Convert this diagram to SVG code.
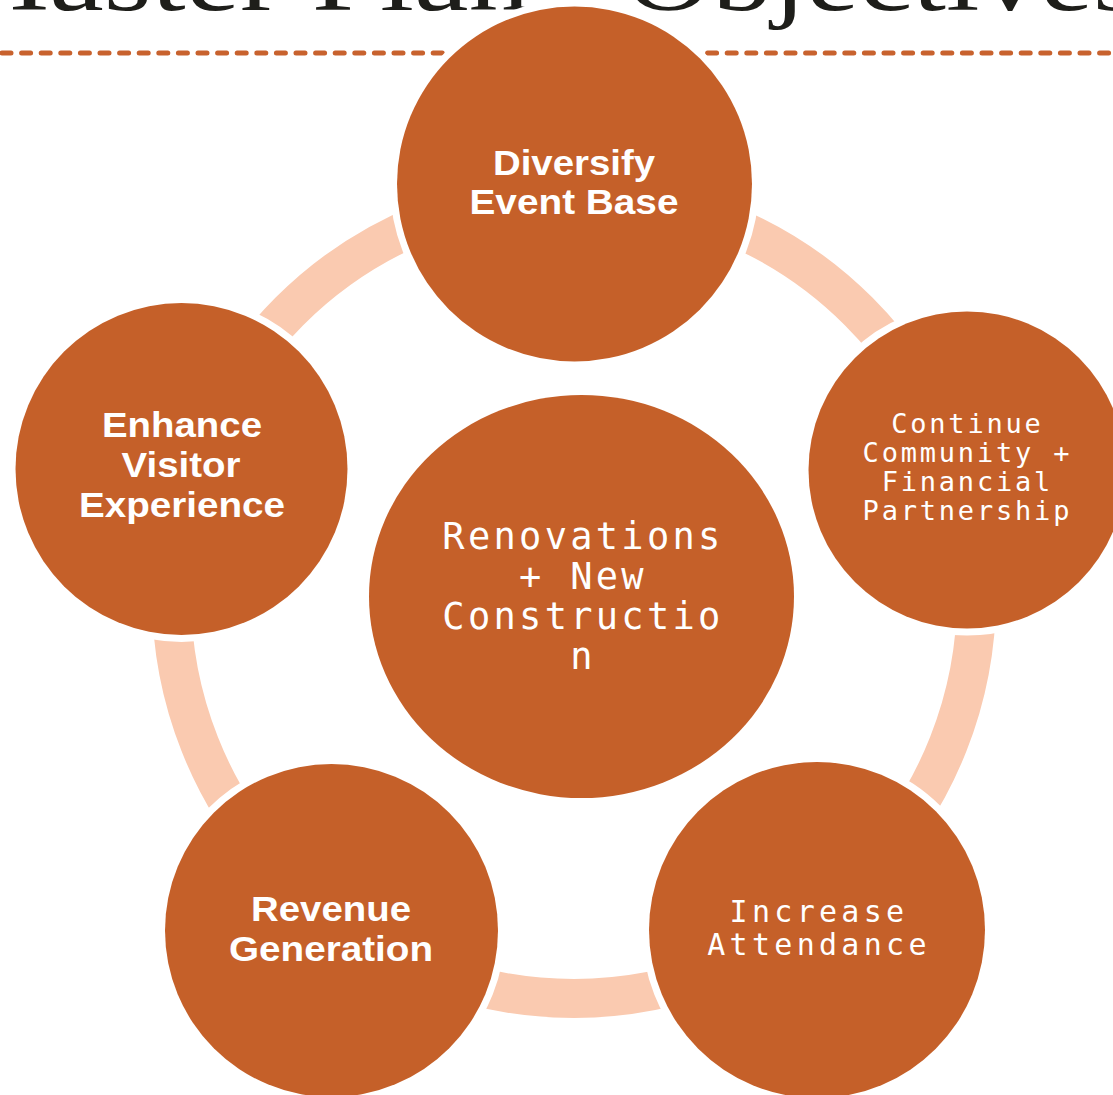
<svg xmlns="http://www.w3.org/2000/svg" width="1113" height="1095" viewBox="0 0 1113 1095">
<style>
.node{fill:#C56029;stroke:#FFFFFF;stroke-width:14;paint-order:stroke}
.sans{font-family:"Liberation Sans",Arial,sans-serif;font-weight:bold;fill:#FFFFFF;text-anchor:middle}
.mono{font-family:"DejaVu Sans Mono","Liberation Mono",monospace;fill:#FFFFFF;text-anchor:middle}
.title{font-family:"Liberation Serif","Times New Roman",serif;font-size:95px;fill:#1E1E1A}
</style>
<rect width="1113" height="1095" fill="#FFFFFF"/>
<g id="title">
<text class="title" x="-60" y="10" textLength="590" lengthAdjust="spacingAndGlyphs">Master Plan</text>
<text class="title" x="625" y="10" textLength="515" lengthAdjust="spacingAndGlyphs">Objectives</text>
</g>
<line id="rule" x1="2" y1="53" x2="1113" y2="53" stroke="#C8622E" stroke-width="5" stroke-linecap="round" stroke-dasharray="9 10.6"/>
<g id="connectors">
<circle cx="574" cy="596" r="402.5" fill="none" stroke="#FACAB0" stroke-width="39"/>
</g>
<g id="node-top">
<circle class="node" cx="574.5" cy="184" r="177.5"/>
<text class="sans" font-size="35" x="574" y="175" textLength="162" lengthAdjust="spacingAndGlyphs">Diversify</text>
<text class="sans" font-size="35" x="574" y="214" textLength="209" lengthAdjust="spacingAndGlyphs">Event Base</text>
</g>
<g id="node-right">
<circle class="node" cx="967" cy="470" r="158.5"/>
<text class="mono" font-size="27" letter-spacing="2.8" x="967.4" y="433">Continue</text>
<text class="mono" font-size="27" letter-spacing="2.8" x="967.4" y="462">Community +</text>
<text class="mono" font-size="27" letter-spacing="2.8" x="967.4" y="491">Financial</text>
<text class="mono" font-size="27" letter-spacing="2.8" x="967.4" y="520">Partnership</text>
</g>
<g id="node-bottom-right">
<circle class="node" cx="817" cy="930" r="168"/>
<text class="mono" font-size="30" letter-spacing="4.3" x="819" y="922">Increase</text>
<text class="mono" font-size="30" letter-spacing="4.3" x="819" y="955">Attendance</text>
</g>
<g id="node-bottom-left">
<circle class="node" cx="331.5" cy="930.5" r="166.5"/>
<text class="sans" font-size="35" x="331" y="921" textLength="160" lengthAdjust="spacingAndGlyphs">Revenue</text>
<text class="sans" font-size="35" x="331" y="961" textLength="204" lengthAdjust="spacingAndGlyphs">Generation</text>
</g>
<g id="node-left">
<circle class="node" cx="181.5" cy="469" r="166"/>
<text class="sans" font-size="35" x="182" y="437" textLength="160" lengthAdjust="spacingAndGlyphs">Enhance</text>
<text class="sans" font-size="35" x="181" y="477" textLength="119" lengthAdjust="spacingAndGlyphs">Visitor</text>
<text class="sans" font-size="35" x="182" y="517" textLength="206" lengthAdjust="spacingAndGlyphs">Experience</text>
</g>
<g id="node-center">
<ellipse class="node" cx="581.5" cy="596.5" rx="212.5" ry="201.5"/>
<text class="mono" font-size="37" letter-spacing="3.3" x="583" y="549">Renovations</text>
<text class="mono" font-size="37" letter-spacing="3.3" x="583" y="589">+ New</text>
<text class="mono" font-size="37" letter-spacing="3.3" x="583" y="629">Constructio</text>
<text class="mono" font-size="37" letter-spacing="3.3" x="583" y="669">n</text>
</g>
</svg>
